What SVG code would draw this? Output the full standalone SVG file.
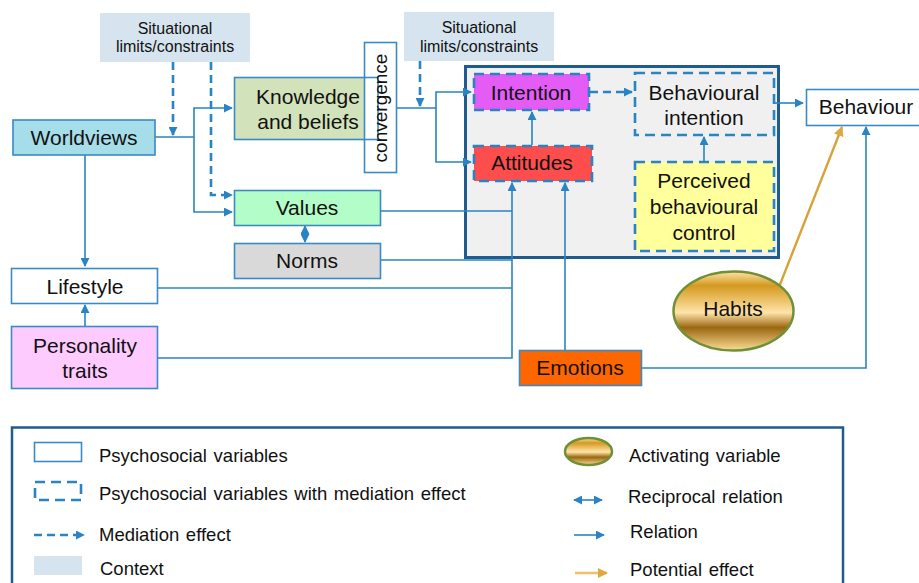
<svg xmlns="http://www.w3.org/2000/svg" width="919" height="583" viewBox="0 0 919 583">
<style>
text{font-family:"Liberation Sans",Arial,sans-serif;fill:#111;}
.n{font-size:21px;text-anchor:middle;}
.c{font-size:16px;text-anchor:middle;}
.lg{font-size:18.5px;word-spacing:1.5px;}
.box{stroke:#3a8ac5;stroke-width:1.6;}
.dbox{stroke:#2a84c4;stroke-width:2.6;stroke-dasharray:10 6;}
.ctx{fill:#d6e4ef;}
.ln{fill:none;stroke:#2a84c4;stroke-width:1.6;}
.dl{fill:none;stroke:#2a84c4;stroke-width:2.6;stroke-dasharray:8 5;}
</style>
<defs>
<marker id="a" viewBox="0 0 10 10" refX="9" refY="5" markerWidth="9" markerHeight="9" markerUnits="userSpaceOnUse" orient="auto-start-reverse"><path d="M0,0L10,5L0,10z" fill="#2a84c4"/></marker>
<marker id="g" viewBox="0 0 10 10" refX="9" refY="5" markerWidth="10" markerHeight="10" markerUnits="userSpaceOnUse" orient="auto"><path d="M0,0L10,5L0,10z" fill="#e0a840"/></marker>
<linearGradient id="gold" x1="0" y1="0" x2="0" y2="1">
<stop offset="0" stop-color="#fde3a6"/>
<stop offset="0.18" stop-color="#d4991f"/>
<stop offset="0.52" stop-color="#ffe4aa"/>
<stop offset="0.71" stop-color="#9a6710"/>
<stop offset="1" stop-color="#fcdc96"/>
</linearGradient>
</defs>

<g id="context1"><rect class="ctx" x="100" y="13" width="150" height="49"/><text class="c" x="175" y="34">Situational</text><text class="c" x="175" y="52">limits/constraints</text></g>
<g id="context2"><rect class="ctx" x="404" y="12" width="150" height="49"/><text class="c" x="479" y="33">Situational</text><text class="c" x="479" y="52">limits/constraints</text></g>

<g id="tpb-frame"><rect x="465.5" y="66.5" width="313" height="191" fill="#f0f0f0" stroke="#1f5b8c" stroke-width="3"/></g>

<g id="connectors">
<path class="ln" d="M155,137H194V108H232" marker-end="url(#a)"/>
<path class="ln" d="M194,137V212H232" marker-end="url(#a)"/>
<path class="dl" d="M173,62V135" marker-end="url(#a)"/>
<path class="dl" d="M211,62V195H232" marker-end="url(#a)"/>
<path class="ln" d="M85,155V266" marker-end="url(#a)"/>
<path class="ln" d="M85,326V305" marker-end="url(#a)"/>
<path class="ln" d="M397,108H436V92H471" marker-end="url(#a)"/>
<path class="ln" d="M436,108V162H471" marker-end="url(#a)"/>
<path class="dl" d="M420,61V106" marker-end="url(#a)"/>
<path class="ln" d="M532,145V112" marker-end="url(#a)"/>
<path class="dl" d="M590,92H632" marker-end="url(#a)"/>
<path class="ln" d="M704,162V137" marker-end="url(#a)"/>
<path class="ln" d="M775,103H803" marker-end="url(#a)"/>
<path class="ln" d="M305,226V242" marker-start="url(#a)" marker-end="url(#a)"/>
<path class="ln" d="M381,211H512"/>
<path class="ln" d="M381,260H512"/>
<path class="ln" d="M158,288H512"/>
<path class="ln" d="M158,358H512V183" marker-end="url(#a)"/>
<path class="ln" d="M565,350V183" marker-end="url(#a)"/>
<path class="ln" d="M642,368H866V127" marker-end="url(#a)"/>
<path d="M779,287L842,127" fill="none" stroke="#d8a23a" stroke-width="2.4" marker-end="url(#g)"/>
</g>

<g id="worldviews"><rect class="box" x="13" y="120" width="142" height="35" fill="#a5dde9"/><text class="n" x="84" y="145">Worldviews</text></g>
<g id="convergence"><rect x="364.5" y="42.5" width="32" height="130" fill="#fff"/></g>
<g id="knowledge"><rect x="234" y="77" width="130" height="63" fill="#d2e2ba"/><rect class="box" x="234.5" y="77.5" width="143.5" height="62" fill="none"/><text class="n" x="308" y="104">Knowledge</text><text class="n" x="308" y="129">and beliefs</text></g>
<g id="convergence-label"><rect class="box" x="364.5" y="42.5" width="32" height="130" fill="none"/><text class="n" style="font-size:19px" transform="translate(387,108) rotate(-90)">convergence</text></g>
<g id="values"><rect class="box" x="234.5" y="190.5" width="146" height="35" fill="#b3fec8"/><text class="n" x="307" y="215">Values</text></g>
<g id="norms"><rect class="box" x="234.5" y="243.5" width="146" height="35" fill="#d9d9d9"/><text class="n" x="307" y="268">Norms</text></g>
<g id="lifestyle"><rect class="box" x="11.5" y="268.5" width="146" height="35" fill="#fff"/><text class="n" x="85" y="294">Lifestyle</text></g>
<g id="personality"><rect class="box" x="11.5" y="326.5" width="146" height="62" fill="#fecbfe"/><text class="n" x="85" y="353">Personality</text><text class="n" x="85" y="378">traits</text></g>
<g id="intention"><rect class="dbox" x="474" y="74" width="115" height="36" fill="#e35cf5"/><text class="n" x="531" y="100">Intention</text></g>
<g id="attitudes"><rect class="dbox" x="474" y="146" width="118" height="35" fill="#fe4d4d"/><text class="n" x="532" y="170">Attitudes</text></g>
<g id="behavioural-intention"><rect class="dbox" x="635" y="73" width="139" height="62" fill="none"/><text class="n" x="704" y="100">Behavioural</text><text class="n" x="704" y="125">intention</text></g>
<g id="pbc"><rect class="dbox" x="635" y="162" width="139" height="89" fill="#ffff9b"/><text class="n" x="704" y="188">Perceived</text><text class="n" x="704" y="214">behavioural</text><text class="n" x="704" y="240">control</text></g>
<g id="behaviour"><rect class="box" x="806.5" y="89.5" width="115" height="36" fill="#fff"/><text class="n" x="866" y="114">Behaviour</text></g>
<g id="emotions"><rect class="box" x="519.5" y="350.5" width="122" height="35" fill="#fe6600"/><text class="n" x="580" y="375">Emotions</text></g>
<g id="habits"><ellipse cx="733.5" cy="311" rx="60" ry="39.5" fill="url(#gold)" stroke="#6e9138" stroke-width="2.5"/><text class="n" x="733" y="316">Habits</text></g>

<g id="legend">
<rect x="12" y="427.5" width="831" height="170" fill="none" stroke="#1f5b8c" stroke-width="2.5"/>
<rect class="box" x="34.5" y="442.5" width="47" height="19" fill="#fff"/>
<text class="lg" x="99" y="462">Psychosocial variables</text>
<rect class="dbox" x="35" y="482" width="46" height="18" fill="none" stroke-dasharray="9 7"/>
<text class="lg" x="99" y="500">Psychosocial variables with mediation effect</text>
<path class="dl" d="M34,535H84" marker-end="url(#a)"/>
<text class="lg" x="99" y="541">Mediation effect</text>
<rect class="ctx" x="34" y="556" width="48" height="19"/>
<text class="lg" x="100" y="575">Context</text>
<ellipse cx="588.5" cy="451.5" rx="23.5" ry="13.5" fill="url(#gold)" stroke="#6e9138" stroke-width="2.5"/>
<text class="lg" x="629" y="462">Activating variable</text>
<path class="ln" d="M574,500H602" marker-start="url(#a)" marker-end="url(#a)"/>
<text class="lg" x="628" y="503">Reciprocal relation</text>
<path class="ln" d="M574,535H604" marker-end="url(#a)"/>
<text class="lg" x="630" y="538">Relation</text>
<path d="M575,573H607" fill="none" stroke="#f0c070" stroke-width="2.6" marker-end="url(#g)"/>
<text class="lg" x="630" y="576">Potential effect</text>
</g>
</svg>
